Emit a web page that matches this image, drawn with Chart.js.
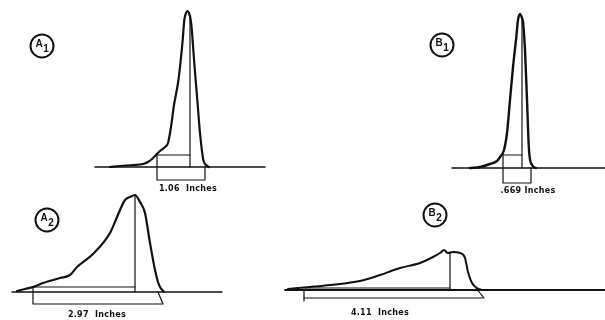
<!DOCTYPE html>
<html>
<head>
<meta charset="utf-8">
<script src="https://cdn.jsdelivr.net/npm/chart.js@4"></script>
<style>
html,body{margin:0;padding:0;background:#fff;}
#wrap{width:605px;height:320px;}
</style>
</head>
<body>
<div id="wrap"><canvas id="c" width="605" height="320"></canvas></div>
<script>
// Peak traces: x = chart position, y = height above each panel's baseline
const a1X = [110,120,133,143,148,152,155,160,165,168,171,174,178,180,182.7,184.3,186,187.3,189,190.7,192,193.3,195,197.3,200,203.3,206,209];
const a1Y = [0,1,2,3,5,8,11,16,20,24,40,62,84,100,127,147,154,156,154,147,135,117,95,67,34,7,2,0];
const b1X = [470,480,490,497,500,504,507,510,513,516,518,520,522,523,525,527,529,532,536];
const b1Y = [0,1,4,7,11,18,35,68,101,128,148,154,150,146,118,68,18,3,0];
const a2X = [17,25,33,43,60,70,77,93,110,120,125,130,135,140,145,150,155,158,160,164];
const a2Y = [1,3,5,9,14,17,25,38,59,82,92,95,97,90,79,49,22,10,5,0];
const b2X = [288,310,330,360,380,400,420,433,440,444,448,453,460,465,468,472,477,482];
const b2Y = [1,3,5,9,15,22,27,33,37,40,37,38,37,32,18,7,2,0];

// Baselines [x start, x end]
const baseA1 = [95,265];
const baseB1 = [452,605];
const baseA2 = [12,222];
const baseB2 = [285,605];

// Measurement constructions: polylines [x,y] pairs
const a1Marks = [
  [[190,0],[190,150]],
  [[157,12],[190,12]],
  [[157,12],[157,-13],[205,-13],[205,0]]
];
const b1Marks = [
  [[522,0],[522,150]],
  [[503,13],[522,13]],
  [[503,13],[503,-15],[531,-15],[531,0]]
];
const a2Marks = [
  [[135,0],[135,97]],
  [[33,5],[135,5]],
  [[33,5],[33,-12],[163,-12],[158,0]]
];
const b2Marks = [
  [[450,0],[450,37]],
  [[304,2],[450,2]],
  [[304,0],[304,-11]],
  [[304,-8],[484,-8],[476,2]]
];

// Width labels
const widthLabels = ["1.06  Inches", ".669 Inches", "2.97  Inches", "4.11  Inches"];
const widthLabelPos = [[188,-22,"yA1"],[528,-23,"yB1"],[97,-23,"yA2"],[380,-23,"yB2"]];

// Panel tags
const tagLetters = ["A","B","A","B"];
const tagSubs = ["1","1","2","2"];
const tagPos = [[42,121,"yA1"],[442,123,"yB1"],[47,72,"yA2"],[435,75,"yB2"]];

const ink = '#111';

function pts(xs, ys){ return xs.map((x,i)=>({x:x, y:ys[i]})); }
function line(data, axis, w, smooth){
  const d = {type:'line', data:data, yAxisID:axis, borderColor:ink, borderWidth:w,
    pointRadius:0, fill:false, tension:0, showLine:true, borderJoinStyle:'round', borderCapStyle:'round'};
  if (smooth) d.cubicInterpolationMode = 'monotone';
  return d;
}

const datasets = [];
datasets.push(line(pts(baseA1,[0,0]),'yA1',1.4));
datasets.push(line(pts(baseB1,[0,0]),'yB1',1.4));
datasets.push(line(pts(baseA2,[0,0]),'yA2',1.4));
datasets.push(line(pts(baseB2,[0,0]),'yB2',1.8));
[[a1Marks,'yA1'],[b1Marks,'yB1'],[a2Marks,'yA2'],[b2Marks,'yB2']].forEach(([m,ax])=>{
  m.forEach(seg=>datasets.push(line(seg.map(p=>({x:p[0],y:p[1]})),ax,1.2)));
});
datasets.push(line(pts(a1X,a1Y),'yA1',2.2,true));
datasets.push(line(pts(b1X,b1Y),'yB1',2.4,true));
datasets.push(line(pts(a2X,a2Y),'yA2',2.2,true));
datasets.push(line(pts(b2X,b2Y),'yB2',2.0,true));

const textPlugin = {
  id:'texts',
  afterDatasetsDraw(chart){
    const ctx = chart.ctx;
    const xs = chart.scales.x;
    ctx.save();
    ctx.fillStyle = ink;
    ctx.textAlign = 'center';
    ctx.textBaseline = 'middle';
    ctx.font = 'bold 8px "DejaVu Sans", "Liberation Sans", sans-serif';
    try { ctx.letterSpacing = '0.3px'; } catch(e){}
    widthLabels.forEach((t,i)=>{
      const p = widthLabelPos[i];
      ctx.fillText(t, xs.getPixelForValue(p[0]), chart.scales[p[2]].getPixelForValue(p[1]));
    });
    try { ctx.letterSpacing = '0px'; } catch(e){}
    tagLetters.forEach((L,i)=>{
      const p = tagPos[i];
      const cx = xs.getPixelForValue(p[0]);
      const cy = chart.scales[p[2]].getPixelForValue(p[1]);
      ctx.beginPath();
      ctx.arc(cx, cy, 11.5, 0, Math.PI*2);
      ctx.lineWidth = 2;
      ctx.strokeStyle = ink;
      ctx.stroke();
      ctx.font = 'bold 10px "Liberation Sans", Arial, sans-serif';
      ctx.fillText(L, cx-3, cy-2);
      ctx.font = 'bold 10px "Liberation Sans", Arial, sans-serif';
      ctx.fillText(tagSubs[i], cx+4, cy+3);
    });
    ctx.restore();
  }
};

function yAxis(baseline){
  return {type:'linear', display:false, min:baseline-320, max:baseline};
}

new Chart(document.getElementById('c'), {
  type:'scatter',
  data:{datasets:datasets},
  options:{
    responsive:false,
    animation:false,
    layout:{padding:0},
    plugins:{legend:{display:false}, tooltip:{enabled:false}},
    scales:{
      x:{type:'linear', display:false, min:0, max:605},
      yA1:yAxis(167),
      yB1:yAxis(168),
      yA2:yAxis(292),
      yB2:yAxis(290)
    }
  },
  plugins:[textPlugin]
});
</script>
</body>
</html>
